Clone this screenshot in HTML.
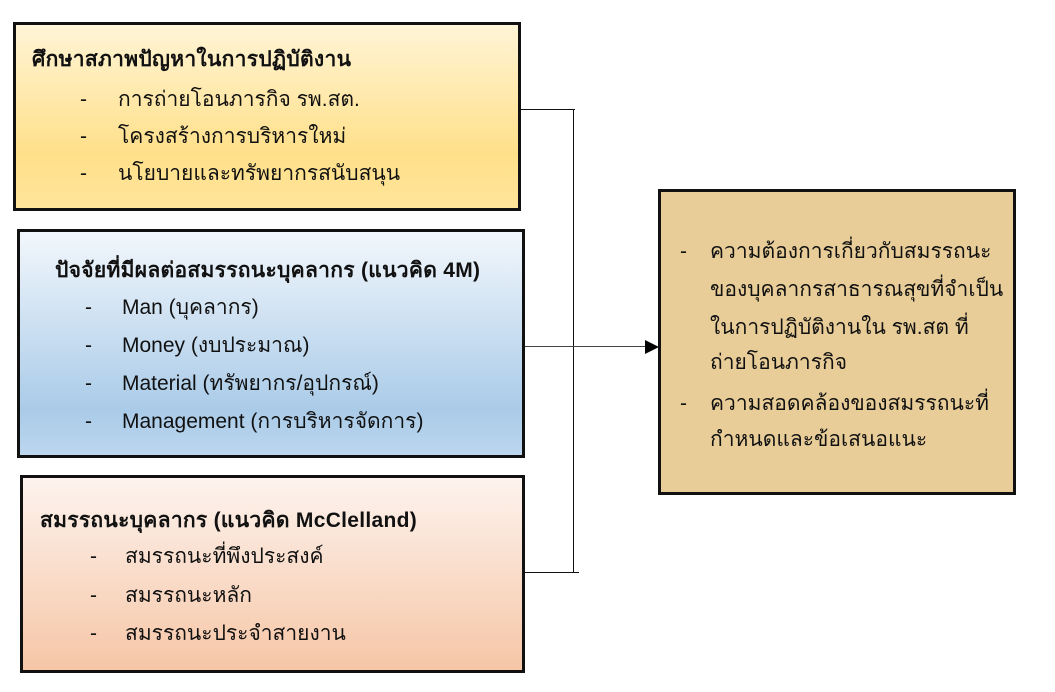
<!DOCTYPE html>
<html><head><meta charset="utf-8"><style>
body{margin:0;width:1055px;height:692px;background:#fff;position:relative;font-family:"Liberation Sans","DejaVu Sans","Noto Sans CJK SC",sans-serif;font-size:21px;color:#111;overflow:hidden}
.b{position:absolute;border:3px solid #111;box-sizing:border-box}
.t{position:absolute;white-space:nowrap;line-height:1}
.h{font-weight:bold;letter-spacing:0.3px}
.l{position:absolute;background:#111}
</style></head><body>
<div class="b" style="left:13px;top:22px;width:508px;height:189px;background:linear-gradient(#fff4d6,#ffe08a 70%,#ffe49a)"></div>
<div class="b" style="left:17px;top:229px;width:508px;height:229px;background:linear-gradient(#f2f7fc,#aacbe8 80%,#bcd6ee)"></div>
<div class="b" style="left:20px;top:475px;width:505px;height:198px;background:linear-gradient(#fdf3ee,#f6c6a6)"></div>
<div class="b" style="left:658px;top:189px;width:358px;height:306px;background:#e8cd98"></div>

<div class="t h" style="left:32px;top:49px">ศึกษาสภาพปัญหาในการปฏิบัติงาน</div>
<div class="t" style="left:80px;top:89px">-</div><div class="t" style="left:118px;top:89px">การถ่ายโอนภารกิจ รพ.สต.</div>
<div class="t" style="left:80px;top:126px">-</div><div class="t" style="left:118px;top:126px">โครงสร้างการบริหารใหม่</div>
<div class="t" style="left:80px;top:163px">-</div><div class="t" style="left:118px;top:163px">นโยบายและทรัพยากรสนับสนุน</div>

<div class="t h" style="left:55px;top:260px">ปัจจัยที่มีผลต่อสมรรถนะบุคลากร (แนวคิด 4M)</div>
<div class="t" style="left:85px;top:297px">-</div><div class="t" style="left:122px;top:297px">Man (บุคลากร)</div>
<div class="t" style="left:85px;top:335px">-</div><div class="t" style="left:122px;top:335px">Money (งบประมาณ)</div>
<div class="t" style="left:85px;top:373px">-</div><div class="t" style="left:122px;top:373px">Material (ทรัพยากร/อุปกรณ์)</div>
<div class="t" style="left:85px;top:411px">-</div><div class="t" style="left:122px;top:411px">Management (การบริหารจัดการ)</div>

<div class="t h" style="left:40px;top:510px">สมรรถนะบุคลากร (แนวคิด McClelland)</div>
<div class="t" style="left:90px;top:546px">-</div><div class="t" style="left:125px;top:546px">สมรรถนะที่พึงประสงค์</div>
<div class="t" style="left:90px;top:585px">-</div><div class="t" style="left:125px;top:585px">สมรรถนะหลัก</div>
<div class="t" style="left:90px;top:623px">-</div><div class="t" style="left:125px;top:623px">สมรรถนะประจำสายงาน</div>

<div class="t" style="left:680px;top:241px">-</div><div class="t" style="left:710px;top:241px">ความต้องการเกี่ยวกับสมรรถนะ</div>
<div class="t" style="left:710px;top:279px">ของบุคลากรสาธารณสุขที่จำเป็น</div>
<div class="t" style="left:710px;top:317px">ในการปฏิบัติงานใน รพ.สต ที่</div>
<div class="t" style="left:710px;top:352px">ถ่ายโอนภารกิจ</div>
<div class="t" style="left:680px;top:393px">-</div><div class="t" style="left:710px;top:393px">ความสอดคล้องของสมรรถนะที่</div>
<div class="t" style="left:710px;top:429px">กำหนดและข้อเสนอแนะ</div>

<div class="l" style="left:521px;top:109px;width:54px;height:1px"></div>
<div class="l" style="left:573px;top:109px;width:1px;height:464px"></div>
<div class="l" style="left:525px;top:572px;width:54px;height:1px"></div>
<div class="l" style="left:525px;top:346px;width:122px;height:1px;background:#444"></div>
<svg style="position:absolute;left:644px;top:339px" width="16" height="16"><polygon points="1,1 15,8 1,15" fill="#000"/></svg>
</body></html>
